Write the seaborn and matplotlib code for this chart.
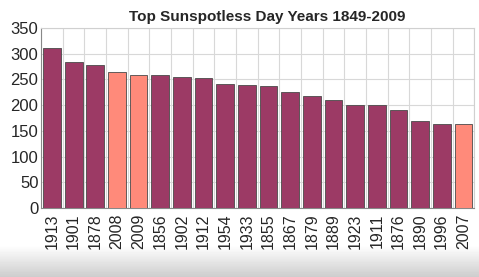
import numpy as np
import pandas as pd
import matplotlib
matplotlib.use("Agg")
import matplotlib.pyplot as plt
import seaborn as sns

years = ["1913", "1901", "1878", "2008", "2009", "1856", "1902", "1912", "1954", "1933",
         "1855", "1867", "1879", "1889", "1923", "1911", "1876", "1890", "1996", "2007"]
days = [311, 284, 278, 265, 259, 259, 255, 253, 241, 239,
        237, 226, 218, 210, 200, 200, 191, 169, 164, 163]
recent = ["2007", "2008", "2009"]

df = pd.DataFrame({"year": years, "days": days})
df["kind"] = np.where(df["year"].isin(recent), "recent", "past")

sns.set_style("white")
plt.rcParams["font.family"] = ["Liberation Sans", "DejaVu Sans"]

fig = plt.figure(figsize=(4.79, 2.77), dpi=100)

# soft grey band at the bottom of the picture
bg = fig.add_axes([0, 0, 1, 1], zorder=-10)
grad = np.ones((277, 1))
ramp = np.clip((np.arange(277) - 245) / 32.0, 0, 1)
grad[:, 0] = 1 - 0.2 * ramp
bg.imshow(grad, cmap="gray", vmin=0, vmax=1, aspect="auto", extent=[0, 1, 1, 0])
bg.axis("off")

ax = fig.add_axes([0.086, 0.249, 0.904, 0.65])
ax.set_facecolor("white")
palette = {"past": "#9C3A65", "recent": "#FF8A7A"}
sns.barplot(data=df, x="year", y="days", hue="kind", palette=palette, dodge=False,
            saturation=1, width=0.82, edgecolor="#4a4a4a", linewidth=0.6,
            legend=False, ax=ax, zorder=3)

ax.set_xlim(-0.5, len(years) - 0.5)
ax.set_ylim(0, 350)
ax.set_yticks(range(0, 351, 50))
ax.set_xticks(np.arange(len(years)))
ax.set_xticklabels(years, rotation=90, fontsize=11.5)
ax.tick_params(axis="y", labelsize=12, length=0, pad=2)
ax.tick_params(axis="x", length=0, pad=4)
# boundary ticks and vertical grid between bars
ax.set_xticks(np.arange(-0.5, len(years)), minor=True)
ax.tick_params(axis="x", which="minor", length=4, color="#888888", direction="out")
ax.grid(axis="y", color="#d8d8d8", linewidth=0.8, zorder=0)
ax.grid(axis="x", which="minor", color="#d8d8d8", linewidth=0.8, zorder=0)
ax.set_xlabel("")
ax.set_ylabel("")
for side in ["top", "right"]:
    ax.spines[side].set_color("#d0d0d0")
ax.spines["left"].set_color("#888888")
ax.spines["bottom"].set_color("#888888")

fig.text(0.557, 0.915, "Top Sunspotless Day Years 1849-2009", ha="center", va="bottom",
         fontsize=11, fontweight="bold")

fig.savefig("out.png", dpi=100)
